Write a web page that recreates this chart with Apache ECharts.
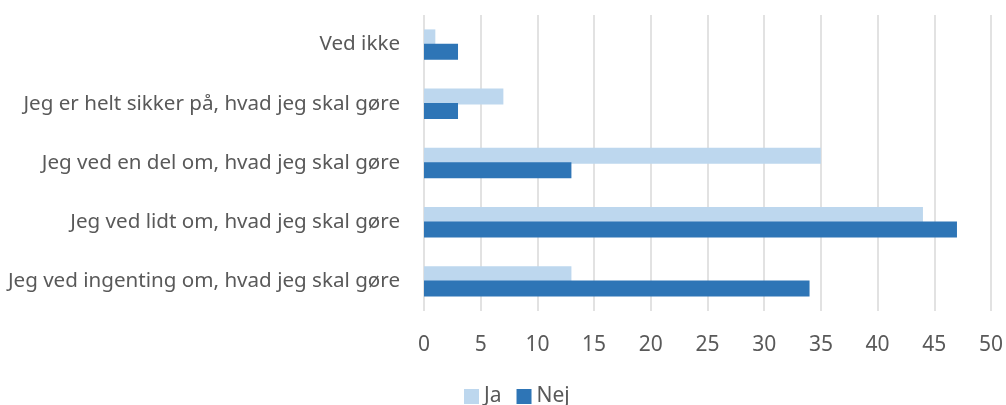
<!DOCTYPE html>
<html>
<head>
<meta charset="utf-8">
<script src="https://cdn.jsdelivr.net/npm/echarts@6/dist/echarts.min.js"></script>
<style>
  html, body { margin: 0; padding: 0; background: #fff; }
  #chart { width: 1006px; height: 405px; }
</style>
</head>
<body>
<div id="chart"></div>
<script>
// kategorier, nederst først
const categories = [
  'Jeg ved ingenting om, hvad jeg skal gøre',
  'Jeg ved lidt om, hvad jeg skal gøre',
  'Jeg ved en del om, hvad jeg skal gøre',
  'Jeg er helt sikker på, hvad jeg skal gøre',
  'Ved ikke'
]
const jaValues = [13, 44, 35, 7, 1]
const nejValues = [34, 47, 13, 3, 3]
const xTicks = { min: 0, max: 50, interval: 5 }

let myChart = echarts.init(document.getElementById('chart'))
const font = '"Noto Sans", sans-serif'
var option = {
  animation: false,
  color: ['#BDD7EE', '#2E75B6'],
  textStyle: { fontFamily: font },
  legend: {
    data: ['Ja', 'Nej'],
    top: 386,
    left: 464,
    padding: 0,
    itemWidth: 15,
    itemHeight: 15,
    itemGap: 15,
    icon: 'rect',
    textStyle: { fontSize: 21, color: '#595959', fontFamily: font }
  },
  grid: {
    left: 424,
    right: 15,
    top: 15,
    bottom: 94
  },
  xAxis: {
    type: 'value',
    min: xTicks.min,
    max: xTicks.max,
    interval: xTicks.interval,
    axisLine: { show: false },
    axisTick: { show: false },
    axisLabel: { fontSize: 21, color: '#595959', margin: 24, fontFamily: font },
    splitLine: { show: true, lineStyle: { color: '#d9d9d9', width: 1.5 } }
  },
  yAxis: {
    type: 'category',
    data: categories,
    axisLine: { show: false },
    axisTick: { show: false },
    axisLabel: { fontSize: 20.6, color: '#595959', margin: 24, fontFamily: font }
  },
  series: [
    {
      name: 'Ja',
      type: 'bar',
      barWidth: 16,
      barGap: '-10%',
      data: jaValues
    },
    {
      name: 'Nej',
      type: 'bar',
      barWidth: 16,
      barGap: '-10%',
      data: nejValues
    }
  ]
}
myChart.setOption(option)
</script>
</body>
</html>
